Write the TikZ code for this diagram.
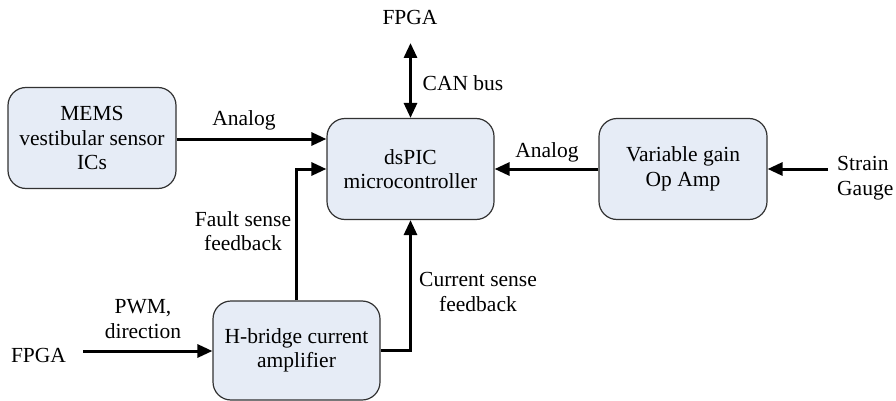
\documentclass[tikz,border=0pt]{standalone}
\usepackage{fontspec}
\setmainfont{Liberation Serif}
\usetikzlibrary{arrows.meta}
\definecolor{boxfill}{RGB}{230,236,246}
\definecolor{boxline}{RGB}{50,50,50}
\tikzset{
  block/.style={draw=boxline, line width=1.2pt, fill=boxfill, rounded corners=18pt,
    align=center, inner sep=2pt},
  lbl/.style={align=center, inner sep=0pt},
  conn/.style={line width=3pt, -{Triangle[length=15pt,width=13pt]}},
  bconn/.style={line width=3pt, {Triangle[length=15pt,width=13pt]}-{Triangle[length=15pt,width=13pt]}},
}
\begin{document}
\begin{tikzpicture}[x=1pt,y=-1pt,font=\fontsize{21.5}{24.5}\selectfont]
\useasboundingbox (0,0) rectangle (896,401);
\clip (0,0) rectangle (896,401);
% blocks
\node[block, minimum width=168pt, minimum height=101pt] (mems) at (92,138) {MEMS\\vestibular sensor\\ICs};
\node[block, minimum width=167pt, minimum height=101pt] (dspic) at (410.5,169) {dsPIC\\microcontroller};
\node[block, minimum width=168pt, minimum height=101pt] (vga) at (683,169) {Variable gain\\Op Amp};
\node[block, minimum width=167pt, minimum height=99pt] (hb) at (296.5,350.5) {H-bridge current\\amplifier};
% free ends
\coordinate (canend) at (410.5,43);
\coordinate (sgend) at (828,169);
\coordinate (fpgaend) at (83,351);
% text labels
\node[lbl] (fpgatop) at (410,17) {FPGA};
\node[lbl] (canlbl) at (463,83) {CAN bus};
\node[lbl] (analogL) at (244,120) {Analog};
\node[lbl] (analogR) at (547,152) {Analog};
\node[lbl, anchor=west, align=left] (strain) at (837,178) {Strain\\Gauge};
\node[lbl] (fpgabot) at (38.5,355) {FPGA};
\node[lbl] (pwm) at (143,319) {PWM,\\direction};
\node[lbl] (fault) at (243,231) {Fault sense\\feedback};
\node[lbl] (current) at (478,292) {Current sense\\feedback};
% connectors
\draw[conn] (mems.east |- 0,139) -- (dspic.west |- 0,139);
\draw[conn] (hb.north) |- (dspic.west);
\draw[conn] (hb.east) -| (dspic.south);
\draw[conn] (vga.west) -- (dspic.east);
\draw[conn] (sgend) -- (vga.east);
\draw[conn] (fpgaend) -- (hb.west |- fpgaend);
\draw[bconn] (canend) -- (dspic.north);
\end{tikzpicture}
\end{document}
